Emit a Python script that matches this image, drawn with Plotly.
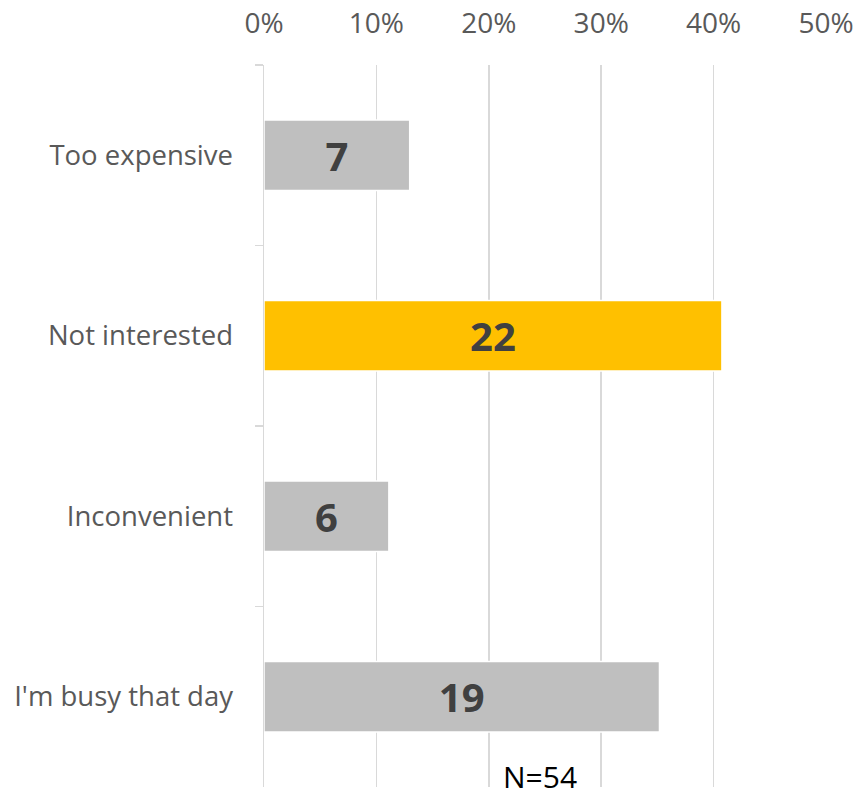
import plotly.graph_objects as go

categories = ["Too expensive", "Not interested", "Inconvenient", "I'm busy that day"]
counts = [7, 22, 6, 19]
total_n = 54
bar_colors = ["#BFBFBF", "#FFC000", "#BFBFBF", "#BFBFBF"]
x_tickvals = [0, 0.1, 0.2, 0.3, 0.4, 0.5]

shares = [c / total_n for c in counts]

fig = go.Figure(go.Bar(
    x=shares,
    y=categories,
    orientation="h",
    marker=dict(color=bar_colors, line=dict(color="white", width=1.5)),
    text=[str(c) for c in counts],
    textposition="inside",
    insidetextanchor="middle",
    textangle=0,
    textfont=dict(family="Open Sans, sans-serif", size=40, color="#404040", weight="bold"),
    hoverinfo="skip",
))

fig.update_layout(
    width=856, height=793,
    margin=dict(l=264, r=30, t=65, b=6, autoexpand=False),
    paper_bgcolor="white", plot_bgcolor="white",
    bargap=0.61,
    showlegend=False,
    font=dict(family="Open Sans, sans-serif", color="#595959"),
    xaxis=dict(
        side="top", range=[0, 0.5], tickvals=x_tickvals, tickformat=".0%",
        showgrid=True, gridcolor="#D9D9D9", gridwidth=1.5,
        zeroline=False, showline=False, ticks="",
        tickfont=dict(size=28, color="#595959"),
        ticklabelstandoff=25, automargin=False,
    ),
    yaxis=dict(
        categoryorder="array", categoryarray=categories, autorange="reversed",
        showline=True, linecolor="#D9D9D9", linewidth=1.5,
        ticks="outside", tickson="boundaries", ticklen=8, tickcolor="#D9D9D9", tickwidth=1.5,
        showgrid=False, automargin=False,
        tickfont=dict(size=27.5, color="#595959"),
        ticklabelstandoff=24,
    ),
    annotations=[dict(
        text=f"N={total_n}", x=0.491, y=0.0, xref="paper", yref="paper",
        xanchor="center", yanchor="middle", yshift=11, showarrow=False,
        font=dict(family="Open Sans, sans-serif", size=30, color="#000000"),
    )],
)

fig.write_html(
    "out.html",
    config={"displayModeBar": False, "staticPlot": True},
    post_script="document.documentElement.style.overflow='hidden';"
                "document.body.style.margin='0';document.body.style.overflow='hidden';",
)
